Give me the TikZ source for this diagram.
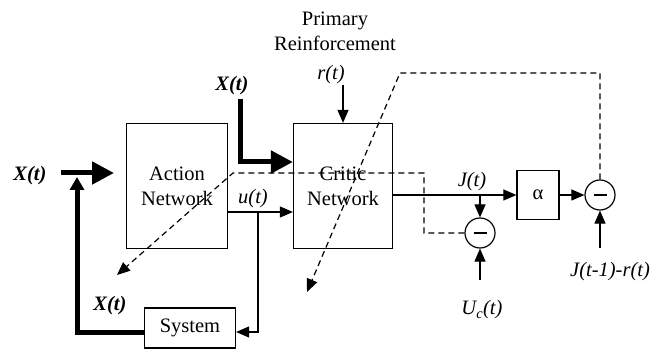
\documentclass[tikz,border=0pt]{standalone}
\usepackage{fontspec}
\setmainfont{Liberation Serif}
\usetikzlibrary{positioning, arrows.meta, calc}

\begin{document}
\begin{tikzpicture}[
  x=1pt, y=-1pt,
  font=\fontsize{20.5}{25}\selectfont,
  block/.style={rectangle, draw, line width=1.2pt, align=center, inner sep=0pt},
  sumnode/.style={circle, draw, line width=1.2pt, minimum size=30pt, inner sep=0pt},
  sig/.style={font=\fontsize{20.5}{25}\selectfont\itshape},
  bsig/.style={font=\fontsize{20.5}{25}\selectfont\bfseries\itshape},
  arr/.style={-{Triangle[length=13pt, width=11pt]}, line width=1.1pt},
  bigarr/.style={-{Triangle[length=22pt, width=22pt]}, line width=5pt},
  fbarr/.style={-{Triangle[length=13pt, width=14pt]}, line width=5pt},
  dasharr/.style={dash pattern=on 6pt off 4pt, line width=1.2pt,
    -{Triangle[length=13pt, width=11pt]}},
]
\useasboundingbox (0,0) rectangle (660,352);

% blocks
\node[block, minimum width=101pt, minimum height=125pt] (action) at (177,186) {Action\\Network};
\node[block, minimum width=99pt, minimum height=125pt] (critic) at (343,186) {Critic\\Network};
\node[block, minimum width=91pt, minimum height=40pt] (system) at (190,328) {System};
\node[block, minimum width=42pt, minimum height=49pt] (alpha) at (538,195) {α};
\node[sumnode] (sum1) at (480,233) {\rule[-0.8pt]{13pt}{1.6pt}};
\node[sumnode] (sum2) at (600,195) {\rule[-0.8pt]{13pt}{1.6pt}};

% labels
\node[align=center] (primary) at (335,31) {Primary\\Reinforcement};
\node[bsig] (xleft) at (30,176) {X(t)};
\node[bsig] (xtop) at (232,86) {X(t)};
\node[bsig] (xsys) at (110,306) {X(t)};
\node[sig] (rlab) at (331,75) {r(t)};
\node[sig] (ulab) at (253,199) {u(t)};
\node[sig] (jlab) at (472,182) {J(t)};
\node[sig] (uclab) at (482,310) {U\textsubscript{c}(t)};
\node[sig] (jprev) at (610,272) {J(t-1)-r(t)};

% free ends
\coordinate (xin) at (61,173);
\coordinate (xend) at (114,173);
\coordinate (fbtop) at (77,177);
\coordinate (rin) at (343,85);
\coordinate (ubranch) at (258,212);
\coordinate (jbranch) at (480,195);
\coordinate (ucin) at (480,280);
\coordinate (jprevin) at (600,248);
\coordinate (dA) at (424,173);
\coordinate (dB) at (233,173);
\coordinate (tipA) at (117,275);
\coordinate (dC) at (400,73);
\coordinate (tipB) at (307,292);

% thick signal paths
\draw[bigarr] (xin) -- (xend);
\draw[bigarr] ([xshift=8pt]xtop.south) |- ([yshift=24pt]critic.west);
\draw[fbarr] ([yshift=-4pt]system.west) -| (fbtop);

% thin arrows
\draw[arr] ([yshift=-26pt]action.east) -- ([yshift=-26pt]critic.west);
\draw[arr] (ubranch) |- ([yshift=-4pt]system.east);
\draw[arr] (rin) -- (critic.north);
\draw[arr] ([yshift=-9pt]critic.east) -- (alpha.west);
\draw[arr] (jbranch) -- (sum1.north);
\draw[arr] (ucin) -- (sum1.south);
\draw[arr] (alpha.east) -- (sum2.west);
\draw[arr] (jprevin) -- (sum2.south);

% dashed error paths
\draw[dasharr] (sum1.west) -| (dA) -- (dB) -- (tipA);
\draw[dasharr] (sum2.north) |- (dC) -- (tipB);
\end{tikzpicture}
\end{document}
